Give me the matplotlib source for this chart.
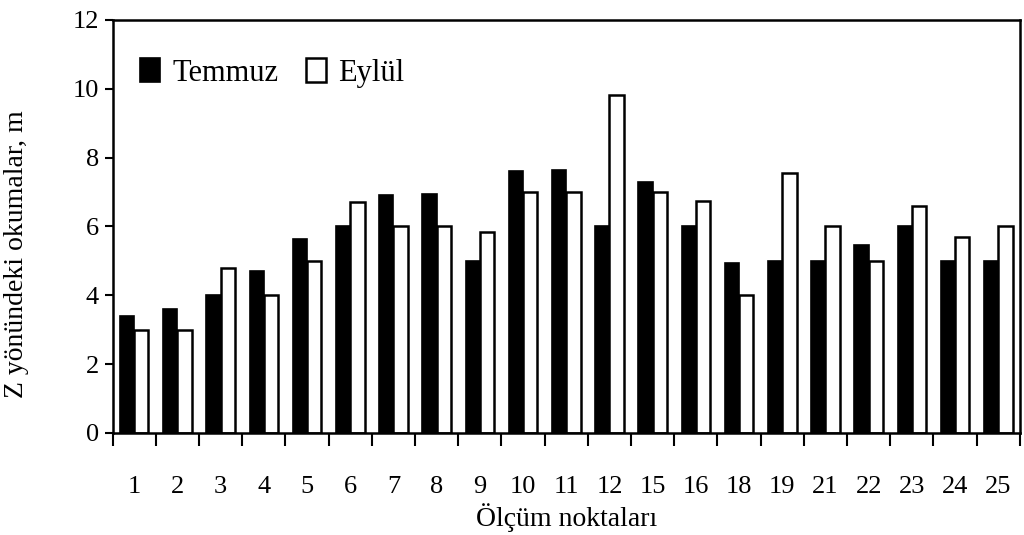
import matplotlib.pyplot as plt
import numpy as np

#ölçüm noktaları
points = ['1', '2', '3', '4', '5', '6', '7', '8', '9', '10', '11', '12',
          '15', '16', '18', '19', '21', '22', '23', '24', '25']

#Temmuz okumaları
temmuz = [3.4, 3.6, 4.0, 4.7, 5.65, 6.0, 6.9, 6.95, 5.0, 7.6, 7.65, 6.0,
          7.3, 6.0, 4.95, 5.0, 5.0, 5.45, 6.0, 5.0, 5.0]

#Eylül okumaları
eylul = [3.0, 3.0, 4.8, 4.0, 5.0, 6.72, 6.0, 6.0, 5.85, 7.0, 7.0, 9.83,
         7.0, 6.75, 4.0, 7.55, 6.0, 5.0, 6.6, 5.7, 6.0]

plt.rcParams['font.family'] = ['Liberation Serif', 'DejaVu Serif']

fig = plt.figure(figsize=(10.24, 5.35), dpi=100)
ax = fig.add_axes([0.110, 0.1907, 0.886, 0.772])

x = np.arange(len(points))
w = 0.33

ax.bar(x - w / 2, temmuz, w, color='black', edgecolor='black', linewidth=1.2, label='Temmuz')
ax.bar(x + w / 2, eylul, w, color='white', edgecolor='black', linewidth=1.8, label='Eylül')

#eksen aralıkları
ax.set_xlim(-0.5, len(points) - 0.5)
ax.set_ylim(0, 12)
ax.set_yticks(np.arange(0, 13, 2))

#x ekseni: çizgiler grupların arasında, etiketler ortada
ax.set_xticks(np.arange(-0.5, len(points), 1))
ax.set_xticklabels([])
ax.set_xticks(x, minor=True)
ax.set_xticklabels(points, minor=True)
ax.tick_params(axis='x', which='major', direction='out', length=9, width=1.5)
ax.tick_params(axis='x', which='minor', length=0, pad=31, labelsize=19)
ax.tick_params(axis='y', direction='out', length=6, width=1.5, labelsize=19, pad=4)

for s in ax.spines.values():
    s.set_linewidth(1.8)

ax.set_xlabel('Ölçüm noktaları', fontsize=20, labelpad=4)
ax.set_ylabel('Z yönündeki okumalar, m', fontsize=20)
ax.yaxis.set_label_coords(-0.092, 0.433)

ax.legend(loc='upper left', bbox_to_anchor=(0.0, 0.975), ncol=2, frameon=False,
          fontsize=22, handlelength=0.65, handleheight=0.85, handletextpad=0.4,
          columnspacing=0.9, borderaxespad=0.5)

plt.savefig('out.png', dpi=100)
